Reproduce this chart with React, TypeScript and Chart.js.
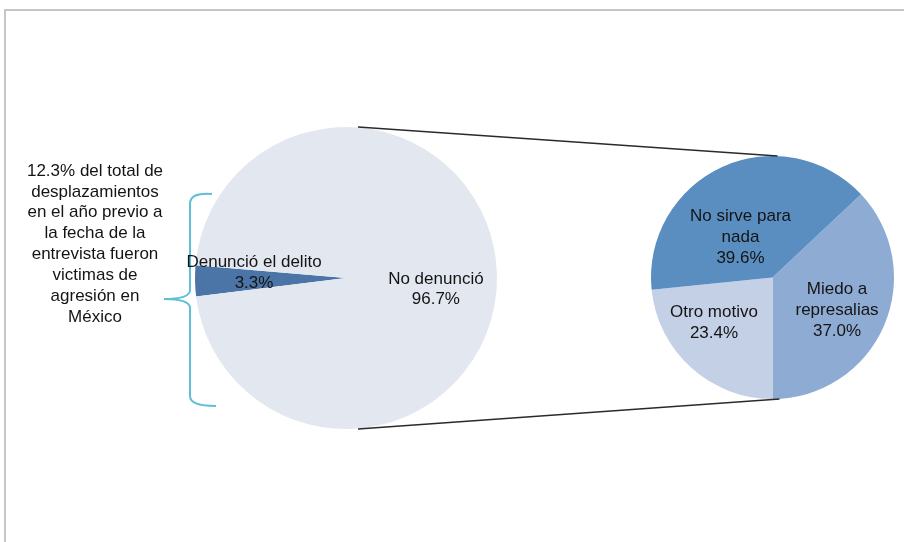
import React, { useEffect, useRef } from "react";
import { Chart, ArcElement, PieController } from "chart.js";

Chart.register(ArcElement, PieController);

// ---- data ----
const leftCategories = ["Denunció el delito", "No denunció"];
const leftValues = [3.3, 96.7];
const rightCategories = [["Miedo a", "represalias"], "Otro motivo", ["No sirve para", "nada"]];
const rightValues = [37.0, 23.4, 39.6];
const noteLines = [
  "12.3% del total de",
  "desplazamientos",
  "en el año previo a",
  "la fecha de la",
  "entrevista fueron",
  "victimas de",
  "agresión en",
  "México",
];

const FONT = '17px "Liberation Sans", Arial, sans-serif';
const W = 904;
const H = 542;

const sliceLabels = {
  id: "sliceLabels",
  afterDatasetsDraw(chart: any, _args: any, opts: any) {
    const ctx = chart.ctx;
    const meta = chart.getDatasetMeta(0);
    const ds = chart.data.datasets[0];
    const place = (opts && opts.place) || [];
    ctx.save();
    ctx.font = FONT;
    ctx.fillStyle = "#141414";
    ctx.textAlign = "center";
    ctx.textBaseline = "middle";
    meta.data.forEach((arc: any, i: number) => {
      const { x, y, startAngle, endAngle, outerRadius } = arc.getProps(
        ["x", "y", "startAngle", "endAngle", "outerRadius"],
        true
      );
      const [frac, shift] = place[i] || [0.6, 0];
      const a = (startAngle + endAngle) / 2 + (shift * Math.PI) / 180;
      const px = x + Math.cos(a) * outerRadius * frac;
      const py = y + Math.sin(a) * outerRadius * frac;
      const lab = chart.data.labels[i];
      const lines = (Array.isArray(lab) ? lab : [lab]).concat([ds.data[i].toFixed(1) + "%"]);
      const lh = 20.6;
      lines.forEach((t: string, k: number) =>
        ctx.fillText(t, px, py + (k - (lines.length - 1) / 2) * lh)
      );
    });
    ctx.restore();
  },
};

const backdrop = {
  id: "backdrop",
  beforeDatasetsDraw(chart: any) {
    const ctx = chart.ctx;
    ctx.save();
    // frame
    ctx.strokeStyle = "#c6c6c6";
    ctx.lineWidth = 2;
    ctx.beginPath();
    ctx.moveTo(5, H);
    ctx.lineTo(5, 10);
    ctx.lineTo(W, 10);
    ctx.stroke();
    // brace
    ctx.strokeStyle = "#5ebfd7";
    ctx.lineWidth = 2;
    ctx.beginPath();
    ctx.moveTo(212, 194);
    ctx.quadraticCurveTo(190, 192, 190, 204);
    ctx.lineTo(190, 290);
    ctx.quadraticCurveTo(190, 299, 164, 299);
    ctx.quadraticCurveTo(190, 299, 190, 308);
    ctx.lineTo(190, 396);
    ctx.quadraticCurveTo(190, 406, 216, 406);
    ctx.stroke();
    // note text
    ctx.font = FONT;
    ctx.fillStyle = "#141414";
    ctx.textAlign = "center";
    ctx.textBaseline = "middle";
    noteLines.forEach((t, k) => ctx.fillText(t, 95, 171 + k * 20.85));
    ctx.restore();
  },
};

export default function App() {
  const leftRef = useRef<HTMLCanvasElement | null>(null);
  const rightRef = useRef<HTMLCanvasElement | null>(null);

  useEffect(() => {
    document.body.style.margin = "0";
    if (!leftRef.current || !rightRef.current) return;

    const common = {
      responsive: false,
      animation: false as const,
      events: [] as any[],
      plugins: { legend: { display: false }, tooltip: { enabled: false } },
    };

    const left = new Chart(leftRef.current, {
      type: "pie",
      data: {
        labels: leftCategories,
        datasets: [
          {
            data: leftValues,
            backgroundColor: ["#4a75a6", "#e3e7f0"],
            borderWidth: 0,
            hoverOffset: 0,
            offset: 0,
          },
        ],
      },
      options: {
        ...common,
        rotation: 263,
        layout: { padding: { left: 195, right: W - 497, top: 127, bottom: H - 429 } },
        plugins: {
          ...common.plugins,
          sliceLabels: { place: [[0.61, 4.2], [0.6, 8.3]] },
        } as any,
      } as any,
      plugins: [backdrop, sliceLabels],
    });

    const connectors = {
      id: "connectors",
      afterDraw(chart: any) {
        const la = left.getDatasetMeta(0).data[0] as any;
        const ra = chart.getDatasetMeta(0).data[0] as any;
        if (!la || !ra) return;
        const ctx = chart.ctx;
        ctx.save();
        ctx.strokeStyle = "#2a2a2a";
        ctx.lineWidth = 1.5;
        ctx.beginPath();
        ctx.moveTo(la.x + 12, la.y - la.outerRadius);
        ctx.lineTo(ra.x + 5, ra.y - ra.outerRadius);
        ctx.moveTo(la.x + 12, la.y + la.outerRadius);
        ctx.lineTo(ra.x + 7, ra.y + ra.outerRadius);
        ctx.stroke();
        ctx.restore();
      },
    };

    const right = new Chart(rightRef.current, {
      type: "pie",
      data: {
        labels: rightCategories as any,
        datasets: [
          {
            data: rightValues,
            backgroundColor: ["#8eabd3", "#c3d0e6", "#5a8ec1"],
            borderWidth: 0,
            hoverOffset: 0,
            offset: 0,
          },
        ],
      },
      options: {
        ...common,
        rotation: 46.8,
        layout: { padding: { left: 651, right: 10, top: 156, bottom: 143 } },
        plugins: {
          ...common.plugins,
          sliceLabels: { place: [[0.596, 3.55], [0.61, 10], [0.423, -14]] },
        } as any,
      } as any,
      plugins: [sliceLabels, connectors],
    });

    return () => {
      right.destroy();
      left.destroy();
    };
  }, []);

  return (
    <div style={{ position: "relative", width: W, height: H, background: "#fff", overflow: "hidden" }}>
      <canvas
        ref={leftRef}
        width={W}
        height={H}
        style={{ position: "absolute", left: 0, top: 0 }}
      />
      <canvas
        ref={rightRef}
        width={W}
        height={H}
        style={{ position: "absolute", left: 0, top: 0 }}
      />
    </div>
  );
}
